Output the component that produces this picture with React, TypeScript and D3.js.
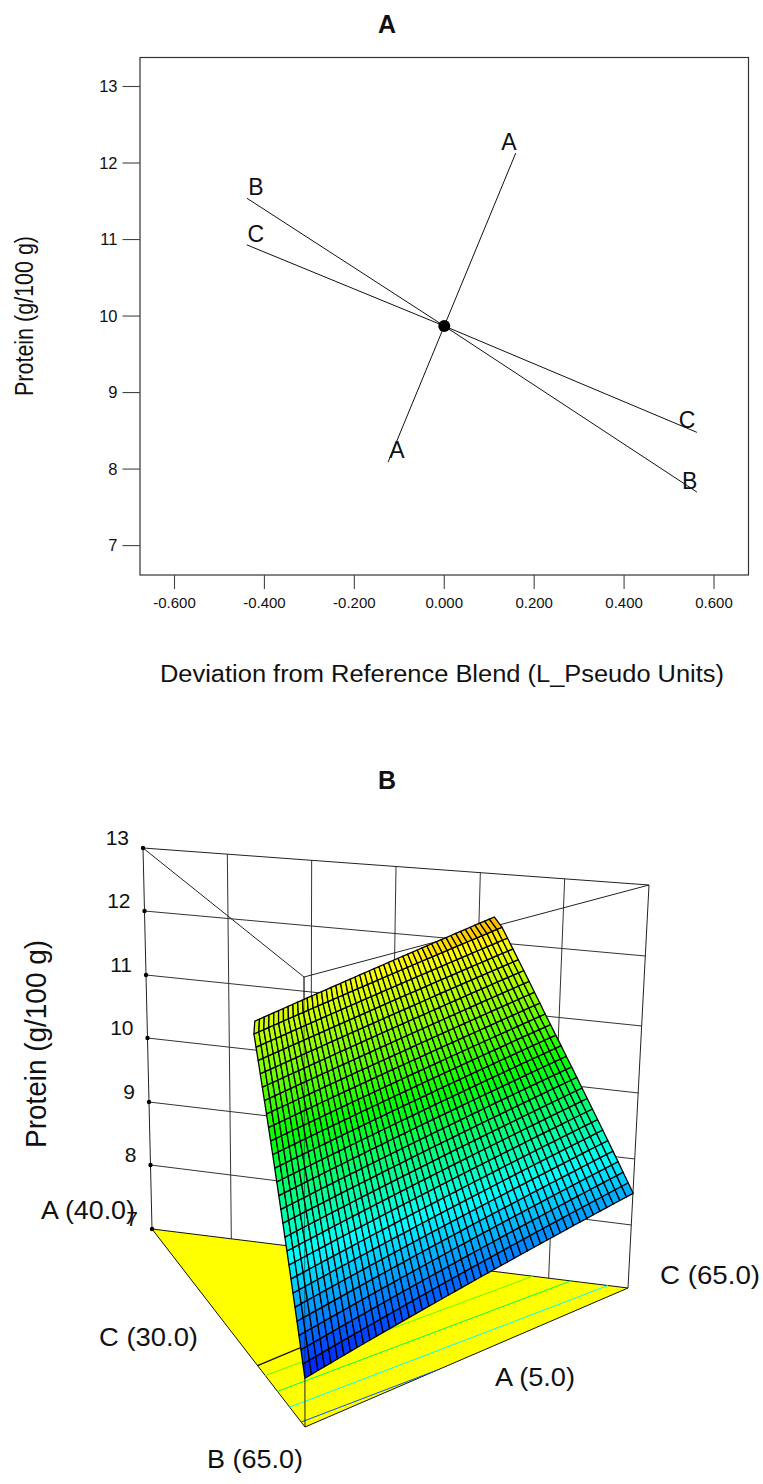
import * as d3 from "d3";

const W = 763;
const H = 1484;
const FONT = "'Liberation Sans', Arial, sans-serif";

// ── Panel A: trace plot ──────────────────────────────────────────────────────
const xTicks = [-0.6, -0.4, -0.2, 0, 0.2, 0.4, 0.6];
const yTicks = [7, 8, 9, 10, 11, 12, 13];
const refPoint = [0, 9.87];
const traceA = [[-0.125, 8.09], refPoint, [0.159, 12.13]];
const traceB = [[-0.439, 11.54], refPoint, [0.562, 7.7]];
const traceC = [[-0.439, 10.93], refPoint, [0.562, 8.48]];

const traceLabels = [
  { text: "A", x: 0.144, y: 12.17 },
  { text: "A", x: -0.105, y: 8.15 },
  { text: "B", x: -0.419, y: 11.58 },
  { text: "C", x: -0.419, y: 10.97 },
  { text: "C", x: 0.54, y: 8.54 },
  { text: "B", x: 0.546, y: 7.74 },
];

const xA = d3.scaleLinear().domain([-0.6, 0.6]).range([174.5, 714]);
const yA = d3.scaleLinear().domain([7, 13]).range([545.6, 86.5]);
const frameA = { x0: 140, x1: 748.5, y0: 57.5, y1: 575 };

// ── Panel B: 3D mixture surface ──────────────────────────────────────────────
const zTicks = [7, 8, 9, 10, 11, 12, 13];
// screen height of each z tick on the three upright edges of the prism
const edgeYA = [1229, 1165, 1102, 1038, 975, 911, 848];
const edgeYB = [1427, 1352, 1277, 1202, 1127, 1052, 977];
const edgeYC = [1288, 1225, 1159, 1093, 1026, 956, 885];
const edgeXA = [152, 143];
const edgeXB = [305, 304];
const edgeXC = [628, 649];

const zRange = [7, 13];
const scales = {
  A: { x: d3.scaleLinear().domain(zRange).range(edgeXA), y: d3.scaleLinear().domain(zTicks).range(edgeYA) },
  B: { x: d3.scaleLinear().domain(zRange).range(edgeXB), y: d3.scaleLinear().domain(zTicks).range(edgeYB) },
  C: { x: d3.scaleLinear().domain(zRange).range(edgeXC), y: d3.scaleLinear().domain(zTicks).range(edgeYC) },
};

type Mix = [number, number, number];
const project = (m: Mix, z: number): [number, number] => [
  m[0] * scales.A.x(z) + m[1] * scales.B.x(z) + m[2] * scales.C.x(z),
  m[0] * scales.A.y(z) + m[1] * scales.B.y(z) + m[2] * scales.C.y(z),
];
// g = share of A along the B-A edge, f = share of A along the C-A edge
const onAB = (g: number): Mix => [g, 1 - g, 0];
const onAC = (f: number): Mix => [f, 0, 1 - f];
const onBC = (u: number): Mix => [0, 1 - u, u];

// Surface corners: the last mesh row folds slightly.
const surfaceRows = 26;
const surfaceCols = 50;
const leftG = [0, 0.316, 0.31];
const rightF = [0, 0.2874, 0.3034];
const leftZ = [7.65, 11.63, 11.82];
const rightZ = [8.48, 12.23, 12.37];
const rowBreaks = [0, surfaceRows - 1, surfaceRows];

const leftGAt = d3.scaleLinear().domain(rowBreaks).range(leftG);
const rightFAt = d3.scaleLinear().domain(rowBreaks).range(rightF);
const leftZAt = d3.scaleLinear().domain(rowBreaks).range(leftZ);
const rightZAt = d3.scaleLinear().domain(rowBreaks).range(rightZ);

const meshPoint = (r: number, c: number) => {
  const u = c / surfaceCols;
  const ml = onAB(leftGAt(r));
  const mr = onAC(rightFAt(r));
  const m: Mix = [ml[0] * (1 - u) + mr[0] * u, ml[1] * (1 - u) + mr[1] * u, ml[2] * (1 - u) + mr[2] * u];
  const z = leftZAt(r) * (1 - u) + rightZAt(r) * u;
  return { p: project(m, z), z };
};

const colorZ = [7.5, 9, 10.4, 12.05, 13];
const colorStops = ["#0000ff", "#00ffff", "#00ff00", "#ffff00", "#ff0000"];
const surfaceColor = d3.scaleLinear<string>().domain(colorZ).range(colorStops);

// floor contours, parallel to the B-C edge
const contourLevels = [8, 9, 10, 11];
const contourG = [0.025, 0.1, 0.18, 0.26];
const contourEnd: Mix[] = [onBC(0.41), onAC(0.042), onAC(0.12), onAC(0.2)];
const floorEdgeG = 0.31;
const floorEdgeF = 0.3;
const wallDivisions = d3.range(1, 6).map((k) => k / 6);

const vertexLabels = [
  { text: "A (40.0)", x: 41, y: 1210, w: 94 },
  { text: "C (30.0)", x: 99, y: 1337, w: 99 },
  { text: "B (65.0)", x: 207, y: 1459, w: 96 },
  { text: "A (5.0)", x: 495, y: 1377, w: 80 },
  { text: "C (65.0)", x: 660, y: 1275, w: 100 },
];

const line = d3.line();
const seg = (a: [number, number], b: [number, number]) => line([a, b]) ?? "";

function PanelA() {
  const { x0, x1, y0, y1 } = frameA;
  const tracePath = d3
    .line<number[]>()
    .x((d) => xA(d[0]))
    .y((d) => yA(d[1]));
  return (
    <g>
      <text x={387} y={33} textAnchor="middle" fontSize={25} fontWeight={700}>A</text>
      <rect x={x0} y={y0} width={x1 - x0} height={y1 - y0} fill="none" stroke="#333" strokeWidth={1.2} />
      {yTicks.map((t) => (
        <g key={t}>
          <line x1={122.5} x2={x0} y1={yA(t)} y2={yA(t)} stroke="#444" strokeWidth={1.1} />
          <text x={117.5} y={yA(t) + 5.5} textAnchor="end" fontSize={16.5}>{t}</text>
        </g>
      ))}
      {xTicks.map((t) => (
        <g key={t}>
          <line x1={xA(t)} x2={xA(t)} y1={y1} y2={y1 + 14} stroke="#444" strokeWidth={1.1} />
          <text x={xA(t)} y={608} textAnchor="middle" fontSize={15}>{t.toFixed(3)}</text>
        </g>
      ))}
      <text x={160} y={682} fontSize={23} textLength={564} lengthAdjust="spacingAndGlyphs">
        Deviation from Reference Blend (L_Pseudo Units)
      </text>
      <text
        transform="translate(33,396) rotate(-90)"
        fontSize={25}
        textLength={160}
        lengthAdjust="spacingAndGlyphs"
      >
        Protein (g/100 g)
      </text>
      {[traceA, traceB, traceC].map((t, i) => (
        <path key={i} d={tracePath(t) ?? ""} fill="none" stroke="#111" strokeWidth={1} />
      ))}
      <circle cx={xA(refPoint[0])} cy={yA(refPoint[1])} r={6} fill="#000" />
      {traceLabels.map((l, i) => (
        <text key={i} x={xA(l.x)} y={yA(l.y)} textAnchor="middle" fontSize={23}>{l.text}</text>
      ))}
    </g>
  );
}

function PanelB() {
  const A0 = project([1, 0, 0], 7);
  const B0 = project([0, 1, 0], 7);
  const C0 = project([0, 0, 1], 7);
  const A1 = project([1, 0, 0], 13);
  const B1 = project([0, 1, 0], 13);
  const C1 = project([0, 0, 1], 13);

  const cells: { d: string; fill: string }[] = [];
  for (let r = 0; r < surfaceRows; r++) {
    for (let c = 0; c < surfaceCols; c++) {
      const q = [meshPoint(r, c), meshPoint(r, c + 1), meshPoint(r + 1, c + 1), meshPoint(r + 1, c)];
      cells.push({
        d: (line(q.map((k) => k.p)) ?? "") + "Z",
        fill: surfaceColor(d3.mean(q, (k) => k.z) ?? 0),
      });
    }
  }

  const gridStroke = "#333";
  return (
    <g>
      <text x={387} y={789} textAnchor="middle" fontSize={25} fontWeight={700}>B</text>
      <text
        transform="translate(46,1148) rotate(-90)"
        fontSize={29}
        textLength={208}
        lengthAdjust="spacingAndGlyphs"
      >
        Protein (g/100 g)
      </text>

      {/* back wall */}
      {zTicks.slice(1, -1).map((z) => (
        <path key={z} d={seg(project([1, 0, 0], z), project([0, 0, 1], z))} stroke={gridStroke} strokeWidth={1} fill="none" />
      ))}
      {wallDivisions.map((k) => (
        <path key={k} d={seg(project(onAC(1 - k), 7), project(onAC(1 - k), 13))} stroke={gridStroke} strokeWidth={1} fill="none" />
      ))}

      {/* floor */}
      <path d={(line([A0, B0, C0]) ?? "") + "Z"} fill="#ffff00" stroke="#111" strokeWidth={1} strokeLinejoin="round" />
      {contourLevels.map((z, i) => (
        <path
          key={z}
          d={seg(project(onAB(contourG[i]), 7), project(contourEnd[i], 7))}
          stroke={surfaceColor(z)}
          strokeWidth={1}
          fill="none"
        />
      ))}
      <path d={seg(project(onAB(floorEdgeG), 7), project(onAC(floorEdgeF), 7))} stroke="#111" strokeWidth={1.2} fill="none" />

      {/* prism outline */}
      {[
        [A0, A1],
        [B0, B1],
        [C0, C1],
        [A1, B1],
        [B1, C1],
        [A1, C1],
      ].map((s, i) => (
        <path key={i} d={seg(s[0], s[1])} stroke="#222" strokeWidth={1} fill="none" />
      ))}

      {/* surface mesh */}
      <g stroke="#000" strokeWidth={1.3} strokeLinejoin="round">
        {cells.map((c, i) => (
          <path key={i} d={c.d} fill={c.fill} />
        ))}
      </g>
      <path d={seg(B1, project([0, 1, 0], 7.65))} stroke="#000" strokeOpacity={0.45} strokeWidth={1} fill="none" />

      {zTicks.map((z) => {
        const p = project([1, 0, 0], z);
        return (
          <g key={z}>
            <circle cx={p[0]} cy={p[1]} r={2.2} fill="#000" />
            <text x={p[0] - 14} y={p[1] - 3} textAnchor="end" fontSize={21}>{z}</text>
          </g>
        );
      })}
      {vertexLabels.map((l) => (
        <text key={l.text} x={l.x} y={l.y + 9} fontSize={26} textLength={l.w} lengthAdjust="spacingAndGlyphs">
          {l.text}
        </text>
      ))}
    </g>
  );
}

export default function App() {
  return (
    <svg
      width={W}
      height={H}
      viewBox={`0 0 ${W} ${H}`}
      style={{ position: "absolute", left: 0, top: 0, background: "#fff", fontFamily: FONT }}
      fill="#111"
    >
      <PanelA />
      <PanelB />
    </svg>
  );
}
